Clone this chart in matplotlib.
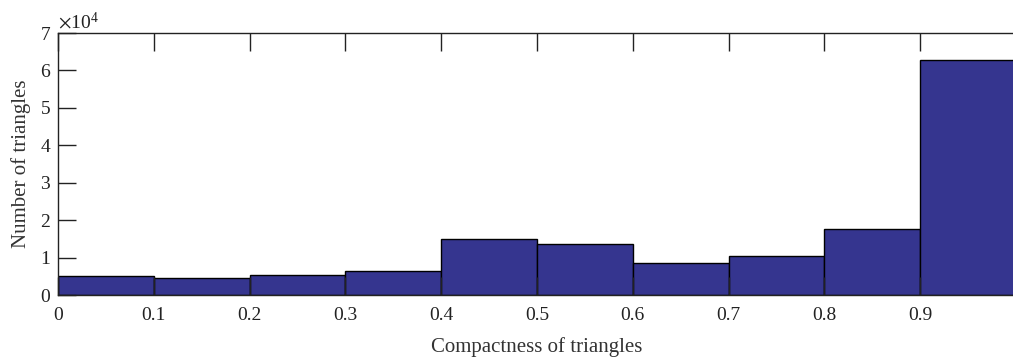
import matplotlib
matplotlib.use("Agg")
import matplotlib.pyplot as plt
from matplotlib.ticker import ScalarFormatter

plt.rcParams['font.family'] = ['Liberation Serif', 'DejaVu Serif']
plt.rcParams['mathtext.fontset'] = 'stix'

# histogram of triangle compactness
bin_edges = [0.0, 0.1, 0.2, 0.3, 0.4, 0.5, 0.6, 0.7, 0.8, 0.9, 1.0]
counts = [5100, 4500, 5300, 6400, 15000, 13500, 8500, 10300, 17600, 62700]
xticks = [0, 0.1, 0.2, 0.3, 0.4, 0.5, 0.6, 0.7, 0.8, 0.9, 1]
xtick_labels = ['0', '0.1', '0.2', '0.3', '0.4', '0.5', '0.6', '0.7', '0.8', '0.9', '1']
yticks = [0, 10000, 20000, 30000, 40000, 50000, 60000, 70000]

fig = plt.figure(figsize=(10.13, 3.57), dpi=100)
W, H = 1013, 357
ax = fig.add_axes([58 / W, 1 - 295 / H, (1016 - 58) / W, (295 - 33) / H])

ax.hist(bin_edges[:-1], bins=bin_edges, weights=counts,
        color='#35358f', edgecolor='black', linewidth=1.0)

ax.set_xlim(0, 1)
ax.set_ylim(0, 70000)
ax.set_xticks(xticks)
ax.set_xticklabels(xtick_labels)
ax.set_yticks(yticks)

fmt = ScalarFormatter(useMathText=True)
fmt.set_powerlimits((4, 4))
ax.yaxis.set_major_formatter(fmt)
ax.yaxis.get_offset_text().set_fontsize(14)
ax.yaxis.get_offset_text().set_color('#222222')

ax.tick_params(direction='in', length=13, width=1, labelsize=14,
               top=True, right=False, pad=5, colors='#222222')
ax.tick_params(axis='x', pad=9)
for s in ax.spines.values():
    s.set_linewidth(1.0)
    s.set_color('#222222')

ax.set_xlabel('Compactness of triangles', fontsize=15, color='#333333', labelpad=9)
ax.set_ylabel('Number of triangles', fontsize=15, color='#333333', labelpad=6)

fig.savefig('out.png', dpi=100)
